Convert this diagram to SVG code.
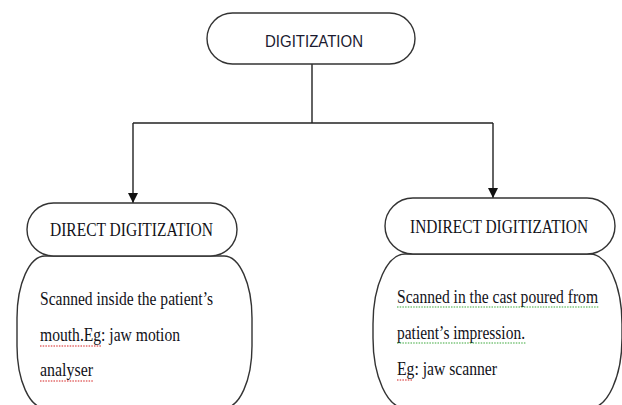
<svg xmlns="http://www.w3.org/2000/svg" width="622" height="405" viewBox="0 0 622 405">
<defs>
<style>
.shape{fill:#fff;stroke:#333;stroke-width:1.4}
.conn{fill:none;stroke:#222;stroke-width:1.4}
.sans{font-family:"Liberation Sans","DejaVu Sans",sans-serif;fill:#1a1a30}
.serif{font-family:"Liberation Serif","DejaVu Serif",serif;fill:#111118}
.red{fill:none;stroke:#d42020;stroke-width:1.1;stroke-dasharray:1.5 1.2}
.green{fill:none;stroke:#3aa83a;stroke-width:1.1;stroke-dasharray:1.5 1.2}
</style>
<marker id="arrow" viewBox="0 0 10 10" refX="10" refY="5" markerWidth="12" markerHeight="10" markerUnits="userSpaceOnUse" orient="auto">
<path d="M0,0 L10,5 L0,10 z" fill="#111"/>
</marker>
</defs>
<rect width="622" height="405" fill="#fff"/>
<g id="connectors">
<polyline class="conn" points="312,64 312,123"/>
<polyline class="conn" points="133,123 493,123"/>
<line class="conn" x1="133" y1="123" x2="133" y2="203" marker-end="url(#arrow)"/>
<line class="conn" x1="493" y1="123" x2="493" y2="198" marker-end="url(#arrow)"/>
</g>
<g id="node-digitization">
<rect class="shape" x="207" y="13" width="208" height="51" rx="25.5" ry="25.5"/>
<text class="sans" x="265" y="47" font-size="17" textLength="98" lengthAdjust="spacingAndGlyphs">DIGITIZATION</text>
</g>
<g id="node-direct-body">
<rect class="shape" x="17" y="256" width="235" height="152" rx="28" ry="62"/>
<text class="serif" x="40" y="305" font-size="18" textLength="173" lengthAdjust="spacingAndGlyphs">Scanned inside the patient’s</text>
<text class="serif" x="40" y="341" font-size="18" textLength="140" lengthAdjust="spacingAndGlyphs">mouth.Eg: jaw motion</text>
<text class="serif" x="40" y="376" font-size="18" textLength="53" lengthAdjust="spacingAndGlyphs">analyser</text>
<line class="red" x1="40" y1="346" x2="102" y2="346"/>
<line class="red" x1="40" y1="381" x2="93" y2="381"/>
</g>
<g id="node-direct">
<rect class="shape" x="27" y="203" width="210" height="53" rx="26.5" ry="26.5"/>
<text class="serif" x="50" y="236" font-size="18" textLength="163" lengthAdjust="spacingAndGlyphs">DIRECT DIGITIZATION</text>
</g>
<g id="node-indirect-body">
<rect class="shape" x="373" y="254" width="249" height="154" rx="32" ry="70"/>
<text class="serif" x="397" y="303" font-size="18" textLength="201" lengthAdjust="spacingAndGlyphs">Scanned in the cast poured from</text>
<text class="serif" x="397" y="339" font-size="18" textLength="128" lengthAdjust="spacingAndGlyphs">patient’s impression.</text>
<text class="serif" x="397" y="375" font-size="18" textLength="100" lengthAdjust="spacingAndGlyphs">Eg: jaw scanner</text>
<line class="green" x1="397" y1="307" x2="599" y2="307"/>
<line class="green" x1="397" y1="343" x2="526" y2="343"/>
<line class="red" x1="397" y1="380" x2="412" y2="380"/>
</g>
<g id="node-indirect">
<rect class="shape" x="385" y="198" width="230" height="56" rx="28" ry="28"/>
<text class="serif" x="410" y="233" font-size="18" textLength="178" lengthAdjust="spacingAndGlyphs">INDIRECT DIGITIZATION</text>
</g>
</svg>
